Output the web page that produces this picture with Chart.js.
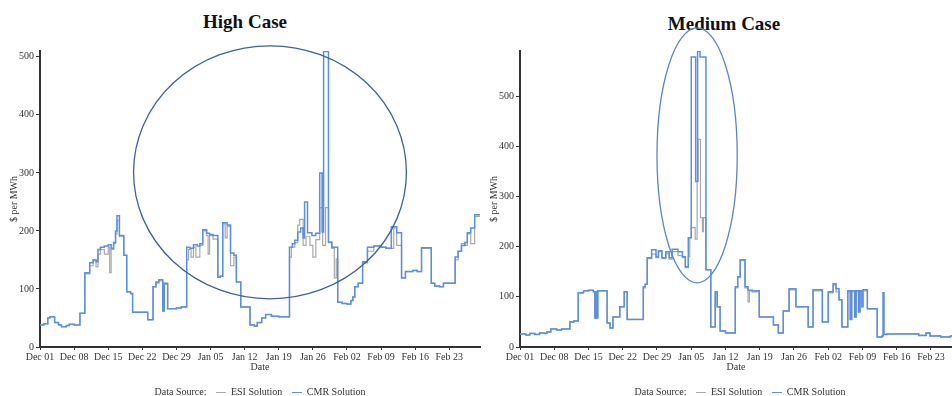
<!DOCTYPE html>
<html>
<head>
<meta charset="utf-8">
<script src="https://cdn.jsdelivr.net/npm/chart.js@4/dist/chart.umd.min.js"></script>
<style>
  body { margin: 0; background: #fff; }
  #wrap { position: relative; width: 952px; height: 396px; overflow: hidden; font-family: "Liberation Serif", "DejaVu Serif", serif; }
  canvas { position: absolute; top: 0; }
  .title { position: absolute; width: 300px; text-align: center; font-weight: bold; font-size: 19px; line-height: 22px; color: #111; }
  .legend { position: absolute; top: 385px; width: 300px; text-align: center; font-size: 10px; line-height: 14px; color: #333; }
  .swatch { display: inline-block; width: 10px; height: 0; vertical-align: middle; margin: 0 5px 0 7px; }
</style>
</head>
<body>
<div id="wrap">
  <div class="title" style="left:95px;top:11px">High Case</div>
  <div class="title" style="left:574px;top:13px">Medium Case</div>
  <canvas id="high-chart" width="481" height="396" style="left:0"></canvas>
  <canvas id="medium-chart" width="472" height="396" style="left:480px"></canvas>
  <div class="legend" style="left:110px">Data Source: <span class="swatch" style="border-top:1.5px solid #a8a8a8"></span>ESI Solution <span class="swatch" style="border-top:1.5px solid #5b8fe0"></span>CMR Solution</div>
  <div class="legend" style="left:590px">Data Source: <span class="swatch" style="border-top:1.5px solid #a8a8a8"></span>ESI Solution <span class="swatch" style="border-top:1.5px solid #5b8fe0"></span>CMR Solution</div>
</div>
<script>
// days since Dec 01, one label per week
const weekDays = [0, 7, 14, 21, 28, 35, 42, 49, 56, 63, 70, 77, 84];
const weekLabels = ["Dec 01", "Dec 08", "Dec 15", "Dec 22", "Dec 29", "Jan 05", "Jan 12",
  "Jan 19", "Jan 26", "Feb 02", "Feb 09", "Feb 16", "Feb 23"];
const priceTicks = [0, 100, 200, 300, 400, 500];

// [day, $ per MWh] step points, value holds until the next point
const highCmr = [[0,38],[0.8,40],[1.6,50],[2,52],[3,42],[3.8,38],[4.4,35],[5.4,37],[6,39],[7,38],
  [8.2,58],[9.2,128],[10.2,145],[10.9,150],[11.5,147],[11.9,168],[12.4,172],[13.2,174],[14,176],
  [14.6,170],[15.1,180],[15.5,200],[15.8,226],[16.3,192],[17.2,158],[17.8,95],[18.6,92],[19,60],
  [22.1,47],[23.2,104],[23.8,112],[24.4,116],[25.2,62],[25.5,110],[26.2,66],[28,67],[29,69],
  [30.1,172],[30.8,170],[31.5,176],[32.3,174],[32.8,178],[33.4,202],[34.2,196],[34.8,194],
  [35.5,192],[36.5,120],[37,122],[37.5,214],[38.4,210],[39.1,162],[39.8,158],[40.3,112],[41.2,69],
  [43.1,38],[44,36],[44.6,42],[45.5,50],[46.3,56],[47.5,53],[49,52],[51.2,172],[51.8,178],
  [52.3,184],[52.9,198],[53.5,205],[54,188],[54.3,250],[54.9,197],[55.8,192],[56.6,196],[57.4,300],
  [57.9,198],[58.2,509],[59.2,181],[59.9,172],[61.1,77],[62,75],[63,74],[63.8,80],[64.2,86],
  [64.6,104],[65.3,110],[66.2,147],[67.2,172],[68.5,174],[70,172],[71,170],[72.1,207],[73.2,197],
  [74.2,119],[75,130],[76.5,132],[77.4,130],[78.3,171],[80.3,110],[81,105],[82,104],[82.8,110],
  [85.2,155],[85.8,165],[86.5,175],[87.2,180],[87.7,197],[88.4,205],[89.2,228],[90.3,228]];

const highEsi = [[0,38],[0.8,40],[1.6,50],[2,52],[3,42],[3.8,38],[4.4,35],[5.4,37],[6,39],[7,38],
  [8.2,58],[9.2,126],[10.2,140],[10.9,150],[11.5,138],[11.9,160],[12.4,168],[13.2,160],[14,172],
  [14.3,128],[14.6,168],[15.1,178],[15.5,195],[15.8,218],[16.3,190],[17.2,158],[17.8,95],[18.6,92],
  [19,60],[22.1,47],[23.2,104],[23.8,110],[24.4,114],[25.2,62],[25.5,108],[26.2,66],[28,67],[29,69],
  [30.1,150],[30.5,168],[31,155],[31.5,172],[32,155],[32.8,175],[33.4,200],[34.2,192],[34.5,160],
  [34.8,192],[35.5,186],[36.5,120],[37,122],[37.5,212],[38,188],[38.4,208],[39.1,140],[39.8,155],
  [40.3,112],[41.2,69],[43.1,38],[44,36],[44.6,42],[45.5,50],[46.3,56],[47.5,53],[49,52],
  [51.2,155],[51.6,172],[52.3,180],[52.9,210],[53.3,220],[54,175],[54.6,190],[55.4,175],[56,155],
  [56.6,185],[57.4,240],[58,175],[58.6,240],[59.2,180],[59.9,170],[60.4,119],[60.8,152],[61.1,77],
  [62,75],[63,74],[63.8,80],[64.2,86],[64.6,104],[65.3,110],[66.2,145],[67.2,165],[68.5,174],
  [70,172],[71,170],[72.1,170],[72.6,205],[73.2,175],[74.2,119],[75,130],[76.5,132],[77.4,130],
  [78.3,170],[80.3,110],[81,105],[82,104],[82.8,110],[85.2,150],[85.8,165],[86.5,178],[87.2,175],
  [87.7,195],[88.4,178],[89.2,225],[90.3,225]];

const mediumCmr = [[0,26],[1.2,24],[2,27],[3,25],[4,28],[5,27],[5.5,30],[6.3,36],[7.5,34],[8.5,36],
  [10.2,50],[11,52],[11.9,108],[13,112],[14,113],[15,110],[15.3,58],[15.5,110],[15.7,58],[15.9,112],
  [17.8,48],[18.4,38],[19,60],[20.4,80],[21.3,110],[21.9,55],[25.2,120],[25.6,125],[26,178],
  [26.9,194],[27.8,180],[28.3,192],[29,178],[29.8,190],[30.5,178],[31.1,195],[32.3,190],[33.2,180],
  [33.8,160],[34.4,218],[35,578],[35.9,330],[36.3,590],[36.8,578],[38,154],[39,40],[39.9,110],
  [40.3,80],[40.9,32],[42,28],[44,120],[44.5,140],[45,174],[46,120],[46.6,113],[47.5,112],[48.9,60],
  [51.8,44],[52.8,28],[53.8,72],[55,116],[56.4,80],[58.9,40],[59.9,114],[61.8,50],[63,110],[64,126],
  [64.6,116],[65.2,94],[65.8,40],[67,112],[67.5,55],[67.8,112],[68.4,60],[68.7,112],[69.2,70],
  [69.5,112],[69.9,80],[70.1,114],[71,76],[73,20],[74,22],[74.2,108],[74.4,25],[75,26],[80,26],
  [81.5,23],[83,28],[83.8,22],[86,20],[88,22],[90,22]];

const mediumEsi = [[0,26],[1.2,24],[2,27],[3,25],[4,28],[5,27],[5.5,30],[6.3,36],[7.5,34],[8.5,36],
  [10.2,50],[11,52],[11.9,108],[13,112],[14,113],[15,110],[15.3,58],[15.5,110],[15.7,58],[15.9,112],
  [17.8,48],[18.4,38],[19,60],[20.4,80],[21.3,110],[21.9,55],[25.2,118],[25.6,125],[26,176],
  [26.9,185],[27.8,178],[28.3,190],[29,176],[29.8,186],[30.5,175],[31.1,190],[32.3,182],[33.2,178],
  [33.8,158],[34.4,180],[34.7,218],[35,238],[35.8,215],[36.2,330],[36.4,414],[36.9,258],[37.3,230],
  [37.5,258],[38,154],[39,40],[39.9,108],[40.3,80],[40.9,32],[42,28],[44,118],[44.5,138],[45,172],
  [46,118],[46.6,90],[46.9,112],[47.5,110],[48.9,60],[51.8,44],[52.8,28],[53.8,72],[55,114],
  [56.4,80],[58.9,40],[59.9,112],[61.8,50],[63,108],[64,124],[64.6,110],[65.2,94],[65.8,40],
  [67,110],[67.5,55],[67.8,110],[68.4,60],[68.7,110],[69.2,70],[69.5,110],[69.9,80],[70.1,112],
  [71,76],[73,20],[74,22],[74.2,25],[75,26],[80,26],[81.5,23],[83,28],[83.8,22],[86,20],[88,22],
  [90,22]];

// highlighted regions: centre (day, value) and radii (days, value)
const highCircle = { day: 47.2, value: 301, dayRadius: 28, valueRadius: 218 };
const mediumOval = { day: 36.2, value: 382, dayRadius: 8.2, valueRadius: 254 };

const serif = "'Liberation Serif', 'DejaVu Serif', serif";

const ellipsePlugin = {
  id: "ellipse",
  afterDraw(chart, args, opts) {
    if (!opts || !opts.shape) return;
    const { ctx, scales } = chart;
    const s = opts.shape;
    const cx = scales.x.getPixelForValue(s.day);
    const cy = scales.y.getPixelForValue(s.value);
    const rx = Math.abs(scales.x.getPixelForValue(s.day + s.dayRadius) - cx);
    const ry = Math.abs(scales.y.getPixelForValue(s.value + s.valueRadius) - cy);
    ctx.save();
    ctx.beginPath();
    ctx.ellipse(cx, cy, rx, ry, 0, 0, Math.PI * 2);
    ctx.lineWidth = 1.3;
    ctx.strokeStyle = opts.color;
    ctx.stroke();
    ctx.restore();
  },
};

const toPoints = (pairs) => pairs.map(([x, y]) => ({ x, y }));

const buildChart = (canvasId, cmr, esi, yMax, xMax, shape, shapeColor, padRight) => {
  const ctx = document.getElementById(canvasId).getContext("2d");
  return new Chart(ctx, {
    type: "line",
    data: {
      datasets: [
        {
          label: "CMR Solution",
          data: toPoints(cmr),
          borderColor: "#5b8fe0",
          borderWidth: 1.5,
          stepped: true,
          pointRadius: 0,
          fill: false,
        },
        {
          label: "ESI Solution",
          data: toPoints(esi),
          borderColor: "#a8a8a8",
          borderWidth: 1.2,
          stepped: true,
          pointRadius: 0,
          fill: false,
        },
      ],
    },
    options: {
      responsive: false,
      animation: false,
      events: [],
      layout: { padding: { top: 51, bottom: 19, left: 0, right: padRight } },
      plugins: {
        legend: { display: false },
        tooltip: { enabled: false },
        ellipse: { shape, color: shapeColor },
      },
      scales: {
        x: {
          type: "linear",
          min: 0,
          max: xMax,
          afterFit: (scale) => { scale.height = 30; },
          afterBuildTicks: (scale) => { scale.ticks = weekDays.map((value) => ({ value })); },
          grid: { drawOnChartArea: false, tickLength: 3, color: "#333" },
          border: { color: "#333", width: 2 },
          ticks: {
            autoSkip: false,
            maxRotation: 0,
            padding: 1,
            color: "#333",
            font: { family: serif, size: 10 },
            callback: (v) => weekLabels[weekDays.indexOf(v)],
          },
          title: {
            display: true,
            text: "Date",
            color: "#333",
            font: { family: serif, size: 10 },
            padding: { top: 0, bottom: 4 },
          },
        },
        y: {
          min: 0,
          max: yMax,
          afterFit: (scale) => { scale.width = 40; },
          afterBuildTicks: (scale) => { scale.ticks = priceTicks.map((value) => ({ value })); },
          grid: { drawOnChartArea: false, tickLength: 4, color: "#333" },
          border: { color: "#333", width: 2 },
          ticks: {
            padding: 2,
            color: "#333",
            font: { family: serif, size: 10 },
            callback: (v) => String(v),
          },
          title: {
            display: true,
            text: "$ per MWh",
            color: "#333",
            font: { family: serif, size: 10 },
            padding: { top: 8, bottom: 0 },
          },
        },
      },
    },
    plugins: [ellipsePlugin],
  });
};

buildChart("high-chart", highCmr, highEsi, 510, 90.3, highCircle, "#3f6294", 1);
buildChart("medium-chart", mediumCmr, mediumEsi, 590, 88.3, mediumOval, "#5b86c4", 0);
</script>
</body>
</html>
